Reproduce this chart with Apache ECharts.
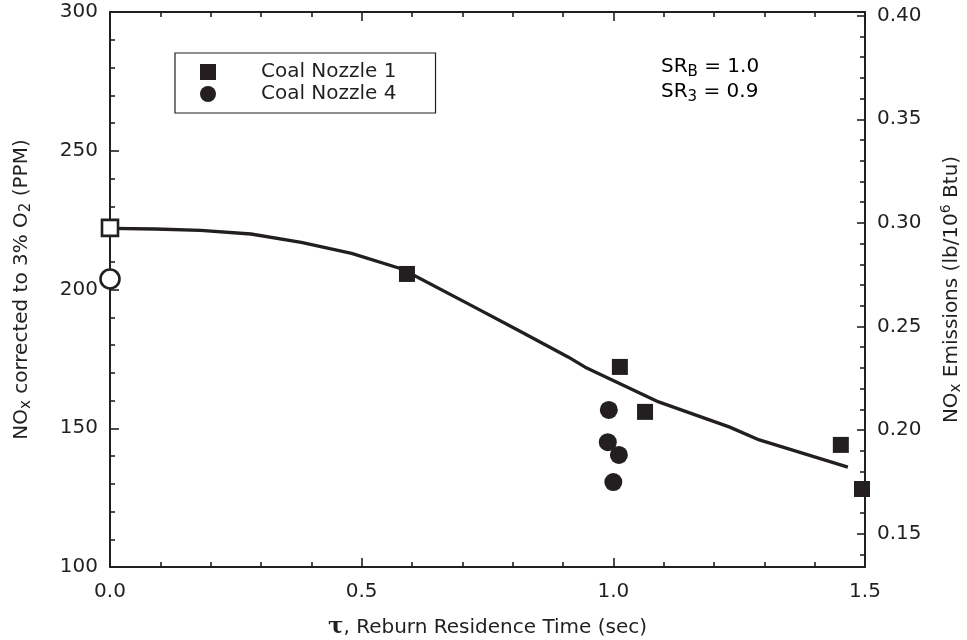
<!DOCTYPE html>
<html>
<head>
<meta charset="utf-8">
<script src="https://cdn.jsdelivr.net/npm/echarts@6/dist/echarts.min.js"></script>
<style>
html,body{margin:0;padding:0;background:#fff}
#chart{width:967px;height:640px}
</style>
</head>
<body>
<div id="chart"></div>
<script>
// values
var nozzle1X=[0.59,1.013,1.063,1.452,1.494];
var nozzle1Y=[205.6,172.1,155.9,144.0,128.1];
var nozzle4X=[0.991,0.989,1.011,1.0];
var nozzle4Y=[156.6,145.0,140.4,130.6];
var baseSquare=[0,222.2];
var baseCircle=[0,203.8];
var curveX=[0,0.09,0.18,0.28,0.38,0.48,0.58,0.71,0.81,0.91,0.944,1.09,1.23,1.29,1.466];
var curveY=[222,221.8,221.3,220,217,213,207.4,195,185.4,175.7,172,159.5,150.5,145.8,136];
var timeMinor=[0.1,0.2,0.3,0.4,0.6,0.7,0.8,0.9,1.1,1.2,1.3,1.4];
var ppmMinor=[110,120,130,140,160,170,180,190,210,220,230,240,260,270,280,290];
var lbTicks=[0.15,0.20,0.25,0.30,0.35,0.40];
var lbMinor=[0.14,0.16,0.17,0.18,0.19,0.21,0.22,0.23,0.24,0.26,0.27,0.28,0.29,0.31,0.32,0.33,0.34,0.36,0.37,0.38,0.39];
var ppmPerLb=746.7;

var ink='#231f20';
var font='DejaVu Sans';

function pairs(xs,ys){
  var out=[];
  for(var i=0;i<xs.length;i++) out.push([xs[i],ys[i]]);
  return out;
}

var subRich={
  n:{fontSize:20,color:ink,fontFamily:font,lineHeight:25},
  s:{fontSize:15,color:ink,fontFamily:font,verticalAlign:'bottom',lineHeight:15},
  p:{fontSize:14,color:ink,fontFamily:font,verticalAlign:'top',lineHeight:14}
};
var tickStyle={color:ink,width:1.6};
var lineStyle={onZero:false,lineStyle:{color:ink,width:2}};

// extra axis that only draws short inside ticks
function minorAxis(base,vals){
  return {
    type:'value',min:base.min,max:base.max,position:base.position,
    axisLine:{show:false,onZero:false},
    axisTick:{inside:true,length:5,customValues:vals,lineStyle:tickStyle},
    axisLabel:{show:false},
    splitLine:{show:false}
  };
}

var myChart=echarts.init(document.getElementById('chart'));
var option={
  animation:false,
  textStyle:{fontFamily:font,color:ink},
  grid:{left:110,right:102,top:12,bottom:73,containLabel:false,outerBoundsMode:'none'},
  legend:{
    data:['Coal Nozzle 1','Coal Nozzle 4'],
    orient:'vertical',
    left:175,
    top:53,
    padding:[8,39,8,25],
    itemGap:0,
    itemWidth:16,
    itemHeight:16,
    borderColor:ink,
    borderWidth:1.2,
    textStyle:{fontSize:20,color:ink,padding:[0,0,0,40],lineHeight:22}
  },
  xAxis:[{
    type:'value',min:0,max:1.5,interval:0.5,position:'bottom',
    name:'{t|τ}{n|, Reburn Residence Time (sec)}',
    nameLocation:'middle',nameGap:49,
    nameTextStyle:{rich:{
      t:{fontFamily:'DejaVu Serif',fontWeight:'bold',fontSize:23,color:ink},
      n:{fontSize:20,color:ink,fontFamily:font}
    }},
    axisLine:lineStyle,
    axisTick:{inside:true,length:9,lineStyle:tickStyle},
    axisLabel:{fontSize:20,color:ink,margin:15,formatter:function(v){return v.toFixed(1);}},
    splitLine:{show:false}
  },{
    type:'value',min:0,max:1.5,interval:0.5,position:'top',
    axisLine:lineStyle,
    axisTick:{inside:true,length:9,lineStyle:tickStyle},
    axisLabel:{show:false},
    splitLine:{show:false}
  },
  minorAxis({min:0,max:1.5,position:'bottom'},timeMinor),
  minorAxis({min:0,max:1.5,position:'top'},timeMinor)],
  yAxis:[{
    type:'value',min:100,max:300,interval:50,position:'left',
    name:'{n|NO}{s|x}{n| corrected to 3% O}{s|2}{n| (PPM)}',
    nameLocation:'middle',nameGap:76,
    nameTextStyle:{rich:subRich},
    axisLine:lineStyle,
    axisTick:{inside:true,length:9,lineStyle:tickStyle},
    axisLabel:{fontSize:20,color:ink,margin:12},
    splitLine:{show:false}
  },{
    type:'value',min:100/ppmPerLb,max:300/ppmPerLb,position:'right',
    name:'{n|NO}{s|x}{n| Emissions (lb/10}{p|6}{n| Btu)}',
    nameLocation:'middle',nameGap:74,nameRotate:90,
    nameTextStyle:{rich:subRich},
    axisLine:lineStyle,
    axisTick:{inside:true,length:8,customValues:lbTicks,lineStyle:tickStyle},
    axisLabel:{fontSize:20,color:ink,margin:12,customValues:lbTicks,formatter:function(v){return v.toFixed(2);}},
    splitLine:{show:false}
  },
  minorAxis({min:100,max:300,position:'left'},ppmMinor),
  minorAxis({min:100/ppmPerLb,max:300/ppmPerLb,position:'right'},lbMinor)],
  graphic:[{
    type:'text',left:661,top:57,
    style:{
      text:'{n|SR}{s|B}{n| = 1.0}\n{n|SR}{s|3}{n| = 0.9}',
      rich:subRich
    }
  }],
  series:[{
    name:'fit',type:'line',data:pairs(curveX,curveY),
    showSymbol:false,smooth:false,
    lineStyle:{color:ink,width:3.3},z:2
  },{
    name:'Coal Nozzle 1',type:'scatter',data:pairs(nozzle1X,nozzle1Y),
    symbol:'rect',symbolSize:16,itemStyle:{color:ink,opacity:1},z:3
  },{
    name:'Coal Nozzle 4',type:'scatter',data:pairs(nozzle4X,nozzle4Y),
    symbol:'circle',symbolSize:18,itemStyle:{color:ink,opacity:1},z:3
  },{
    name:'base square',type:'scatter',data:[baseSquare],clip:false,
    symbol:'rect',symbolSize:16,itemStyle:{color:'#fff',borderColor:ink,borderWidth:2.6,opacity:1},z:5
  },{
    name:'base circle',type:'scatter',data:[baseCircle],clip:false,
    symbol:'circle',symbolSize:19,itemStyle:{color:'#fff',borderColor:ink,borderWidth:2.6,opacity:1},z:5
  }]
};
myChart.setOption(option);
</script>
</body>
</html>
